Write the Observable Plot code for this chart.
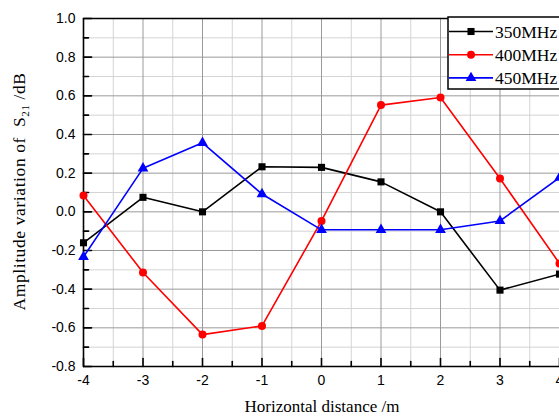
<!DOCTYPE html>
<html><head><meta charset="utf-8">
<script src="https://cdn.jsdelivr.net/npm/d3@7"></script>
<script src="https://cdn.jsdelivr.net/npm/@observablehq/plot@0.6"></script>
<style>
html,body{margin:0;padding:0;background:#fff;overflow:hidden;}
#chart{position:relative;width:559px;height:416px;overflow:hidden;}
#legend{position:absolute;left:447px;top:16px;}
</style></head><body><div id="chart"></div>
<script>
const distances = [-4, -3, -2, -1, 0, 1, 2, 3, 4];
const s350 = [-0.16, 0.075, 0.0, 0.233, 0.23, 0.155, 0.0, -0.405, -0.322];
const s400 = [0.085, -0.314, -0.635, -0.59, -0.047, 0.552, 0.591, 0.172, -0.267];
const s450 = [-0.233, 0.225, 0.357, 0.092, -0.093, -0.093, -0.093, -0.047, 0.177];
const seriesNames = ["350MHz", "400MHz", "450MHz"];
const seriesColors = ["#000000", "#ff0000", "#0000ff"];
const seriesSymbols = ["square", "circle", "triangle"];
const xTicks = [-4, -3, -2, -1, 0, 1, 2, 3, 4];
const xMinorTicks = [-3.5, -2.5, -1.5, -0.5, 0.5, 1.5, 2.5, 3.5];
const yTicks = [-0.8, -0.6, -0.4, -0.2, 0.0, 0.2, 0.4, 0.6, 0.8, 1.0];
const yMinorTicks = [-0.7, -0.5, -0.3, -0.1, 0.1, 0.3, 0.5, 0.7, 0.9];
const xTitle = "Horizontal distance /m";
const yTitleParts = ["Amplitude variation of  S", "21", " /dB"];

const seriesValues = [s350, s400, s450];
const data = seriesNames.flatMap((name, i) =>
  distances.map((d, j) => ({series: name, x: d, y: seriesValues[i][j]})));

const tickShape = {draw(ctx, l) { ctx.moveTo(0, 0); ctx.lineTo(0, -l); }};

const plot = Plot.plot({
  width: 559, height: 416,
  marginLeft: 83, marginRight: 0, marginTop: 18, marginBottom: 50,
  style: {fontFamily: "'Liberation Sans', Arial, sans-serif", fontSize: "14px", background: "white", color: "black"},
  x: {domain: [-4, 4]},
  y: {domain: [-0.8, 1.0]},
  color: {domain: seriesNames, range: seriesColors},
  symbol: {domain: seriesNames, range: seriesSymbols},
  marks: [
    Plot.ruleX(xMinorTicks, {stroke: "#d4d4d4", strokeWidth: 1}),
    Plot.ruleY(yMinorTicks, {stroke: "#d4d4d4", strokeWidth: 1}),
    Plot.ruleX(xTicks, {stroke: "#9a9a9a", strokeWidth: 1}),
    Plot.ruleY(yTicks, {stroke: "#9a9a9a", strokeWidth: 1}),
    Plot.ruleX([-4], {stroke: "black", strokeWidth: 1.6}),
    Plot.ruleY([-0.8, 1.0], {stroke: "black", strokeWidth: 1.6}),
    Plot.vector(yTicks, {x: -4, y: d => d, length: 8, rotate: 90, anchor: "start", shape: tickShape, stroke: "black", strokeWidth: 1.6}),
    Plot.vector(yMinorTicks, {x: -4, y: d => d, length: 5, rotate: 90, anchor: "start", shape: tickShape, stroke: "black", strokeWidth: 1.6}),
    Plot.vector(xTicks, {x: d => d, y: -0.8, length: 8, rotate: 0, anchor: "start", shape: tickShape, stroke: "black", strokeWidth: 1.6}),
    Plot.vector(xMinorTicks, {x: d => d, y: -0.8, length: 5, rotate: 0, anchor: "start", shape: tickShape, stroke: "black", strokeWidth: 1.6}),
    Plot.axisY(yTicks, {tickSize: 0, tickPadding: 8, tickFormat: d => d.toFixed(1), label: null, fontSize: 14}),
    Plot.axisX(xTicks, {tickSize: 0, tickPadding: 9, tickFormat: d => String(d), label: null, fontSize: 14}),
    Plot.line(data, {x: "x", y: "y", z: "series", stroke: "series", strokeWidth: 1.6}),
    Plot.dot(data, {x: "x", y: "y", fill: "series", symbol: "series", r: 4})
  ]
});

const chart = document.getElementById("chart");
chart.appendChild(plot);

const svg = d3.select(plot);
const serif = "'Liberation Serif', 'Times New Roman', serif";
svg.append("text")
  .attr("x", 322).attr("y", 412)
  .attr("text-anchor", "middle")
  .attr("font-family", serif).attr("font-size", 17).attr("fill", "black")
  .text(xTitle);
const yt = svg.append("text")
  .attr("transform", "translate(25,191.5) rotate(-90)")
  .attr("text-anchor", "middle")
  .attr("letter-spacing", "0.6px")
  .attr("font-family", serif).attr("font-size", 17.5).attr("fill", "black");
yt.append("tspan").text(yTitleParts[0]);
yt.append("tspan").attr("font-size", 11).attr("dy", 4).text(yTitleParts[1]);
yt.append("tspan").attr("dy", -4).text(yTitleParts[2]);

// legend
const leg = d3.select(chart).append("svg").attr("id", "legend")
  .attr("width", 130).attr("height", 80);
leg.append("rect").attr("x", 1).attr("y", 1).attr("width", 140).attr("height", 72)
  .attr("fill", "white").attr("stroke", "black").attr("stroke-width", 1.5);
const symMap = {square: d3.symbolSquare, circle: d3.symbolCircle, triangle: d3.symbolTriangle};
seriesNames.forEach((name, i) => {
  const cy = 15.5 + i * 23.2;
  const g = leg.append("g").attr("transform", `translate(0,${cy})`);
  g.append("line").attr("x1", 2).attr("x2", 46).attr("y1", 0).attr("y2", 0)
    .attr("stroke", seriesColors[i]).attr("stroke-width", 1.6);
  g.append("path").attr("transform", "translate(24,0)")
    .attr("d", d3.symbol(symMap[seriesSymbols[i]], Math.PI * 16)())
    .attr("fill", seriesColors[i]);
  g.append("text").attr("x", 48).attr("y", 0).attr("dy", "0.35em")
    .attr("font-family", serif).attr("font-size", 17.5).attr("fill", "black")
    .text(name);
});
</script></body></html>
